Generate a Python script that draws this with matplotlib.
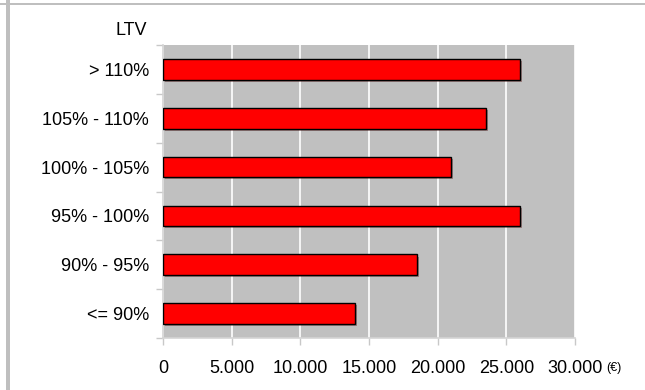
import numpy as np
import matplotlib.pyplot as plt
from matplotlib.patches import Rectangle
import matplotlib.patheffects as pe

# LTV buckets, bottom to top, and the average amount per bucket
ltv_labels = ['<= 90%', '90% - 95%', '95% - 100%', '100% - 105%', '105% - 110%', '> 110%']
amounts = [14000, 18500, 26000, 21000, 23500, 26000]
x_ticks = [0, 5000, 10000, 15000, 20000, 25000, 30000]
x_tick_labels = ['0', '5.000', '10.000', '15.000', '20.000', '25.000', '30.000']

plt.rcParams['font.family'] = ['Liberation Sans', 'DejaVu Sans']

fig = plt.figure(figsize=(6.45, 3.9), dpi=100)
ax = fig.add_axes([163/645, 52/390, 412/645, 293/390])

ax.set_facecolor('#c0c0c0')
ypos = np.arange(len(ltv_labels))
bars = ax.barh(ypos, amounts, height=0.42, color='#ff0000', edgecolor='black',
               linewidth=1.0, zorder=3)
for b in bars:
    b.set_path_effects([pe.SimplePatchShadow(offset=(1.5, -1.5), alpha=0.35), pe.Normal()])

ax.set_xlim(0, 30000)
ax.set_ylim(-0.5, len(ltv_labels) - 0.5)
ax.set_xticks(x_ticks)
ax.set_xticklabels(x_tick_labels, fontsize=13)
ax.xaxis.grid(True, color='white', linewidth=1.2, zorder=1)
ax.set_axisbelow(True)

# category labels centred on bars, tick marks on band boundaries
ax.set_yticks(ypos)
ax.set_yticklabels(ltv_labels, fontsize=13)
ax.tick_params(axis='y', length=0, pad=10)
ax.set_yticks(np.arange(-0.5, len(ltv_labels)), minor=True)
ax.tick_params(axis='y', which='minor', length=5, color='#c8c8c8', width=1)
ax.tick_params(axis='x', length=5, color='#c8c8c8', width=1, pad=11)

for side in ['top', 'right']:
    ax.spines[side].set_visible(False)
for side in ['left', 'bottom']:
    ax.spines[side].set_color('#d4d4d4')
    ax.spines[side].set_linewidth(1.2)

ax.text(-0.039, 1.048, 'LTV', transform=ax.transAxes, ha='right', va='center', fontsize=13)
ax.text(1.075, -0.103, '(\u20ac)', transform=ax.transAxes, ha='left', va='center', fontsize=9)

# frame lines around the figure
fig.add_artist(Rectangle((6/645, 0), 4/645, 1, transform=fig.transFigure,
                         facecolor='#bfbfbf', edgecolor='none'))
fig.add_artist(Rectangle((0, 1 - 5/390), 1, 2.5/390, transform=fig.transFigure,
                         facecolor='#bfbfbf', edgecolor='none'))

fig.savefig('out.png', dpi=100)
